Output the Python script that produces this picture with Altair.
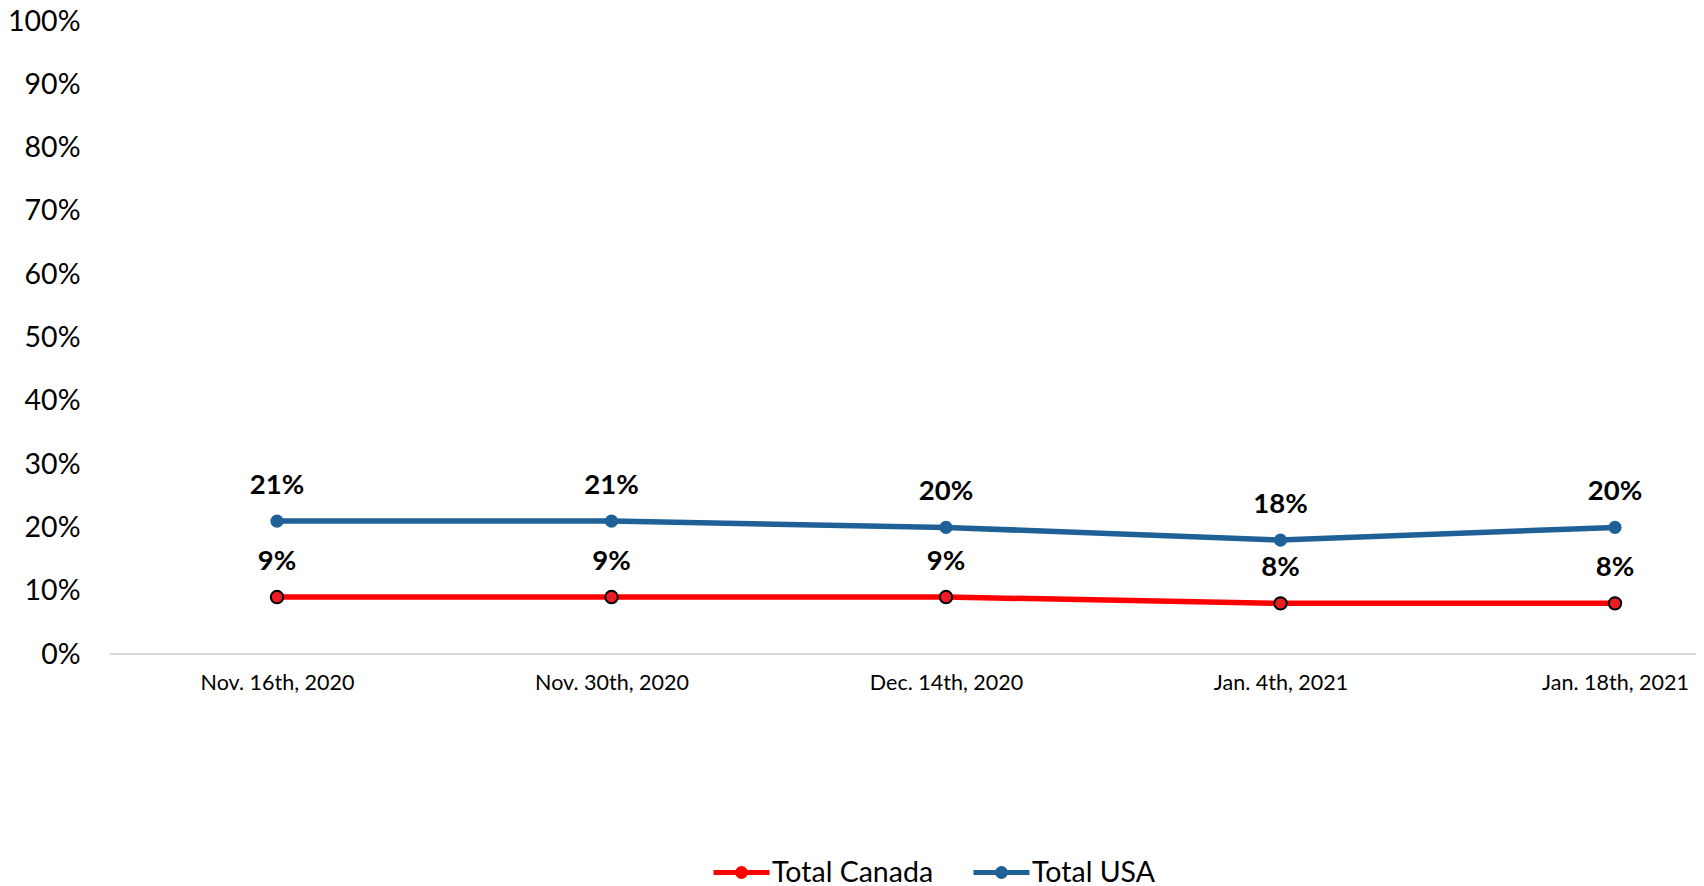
import altair as alt
import pandas as pd

dates = ["Nov. 16th, 2020", "Nov. 30th, 2020", "Dec. 14th, 2020", "Jan. 4th, 2021", "Jan. 18th, 2021"]
canada = [0.09, 0.09, 0.09, 0.08, 0.08]
usa = [0.21, 0.21, 0.20, 0.18, 0.20]
series_names = ["Total Canada", "Total USA"]
series_colors = ["#FF0000", "#1F6197"]

rows = []
for d, v in zip(dates, canada):
    rows.append({"date": d, "value": v, "series": "Total Canada"})
for d, v in zip(dates, usa):
    rows.append({"date": d, "value": v, "series": "Total USA"})
df = pd.DataFrame(rows)

W, H = 1586, 633
FONT = "Lato"

x = alt.X("date:N", sort=dates, title=None,
          scale=alt.Scale(type="point", range=[167, 1505], padding=0),
          axis=alt.Axis(domain=False, ticks=False, labelAngle=0, labelFontSize=21.5,
                        labelColor="#000000", labelPadding=18, labelFont=FONT))
y = alt.Y("value:Q", title=None,
          scale=alt.Scale(domain=[0, 1], nice=False),
          axis=alt.Axis(values=[i / 10 for i in range(11)], format=".0%", domain=False,
                        ticks=False, grid=False, labelFontSize=28.5, labelColor="#000000",
                        labelPadding=30, labelFont=FONT))

legend_path = "M-1,0H1M-0.14,0A0.14,0.14,0,1,0,0.14,0A0.14,0.14,0,1,0,-0.14,0Z"
legend = alt.Legend(title=None, orient="none", direction="horizontal",
                    legendX=601, legendY=821, symbolType=legend_path,
                    symbolSize=3136, symbolStrokeWidth=5,
                    labelFontSize=28.5, labelFont=FONT, labelColor="#000000",
                    labelOffset=0, columnPadding=29, labelLimit=400)
color = alt.Color("series:N", sort=series_names,
                  scale=alt.Scale(domain=series_names, range=series_colors),
                  legend=legend)

base = alt.Chart(df)

axis_line = base.mark_rule(color="#D9D9D9", strokeWidth=2).encode(
    x=alt.value(0), x2=alt.value(W), y=alt.value(H))

lines = base.mark_line(strokeWidth=5.5).encode(x=x, y=y, color=color)

pts_all = base.mark_point(filled=True, size=175, opacity=1).encode(x=x, y=y, color=color)

pts_can = base.transform_filter(alt.datum.series == "Total Canada").mark_point(
    filled=True, fill="#EE1C25", stroke="#000000", strokeWidth=2, size=155, opacity=1
).encode(x=x, y=y)

labels = base.mark_text(dy=-35, fontSize=27.5, fontWeight="bold", font=FONT, color="#000000").encode(
    x=x, y=y, text=alt.Text("value:Q", format=".0%"))

chart = alt.layer(axis_line, lines, pts_all, pts_can, labels).properties(
    width=W, height=H, autosize="none",
    padding={"left": 102, "top": 13, "right": 0, "bottom": 232}
).configure_view(stroke=None)

chart.save("out.html", embed_options={"renderer": "svg", "actions": False})
